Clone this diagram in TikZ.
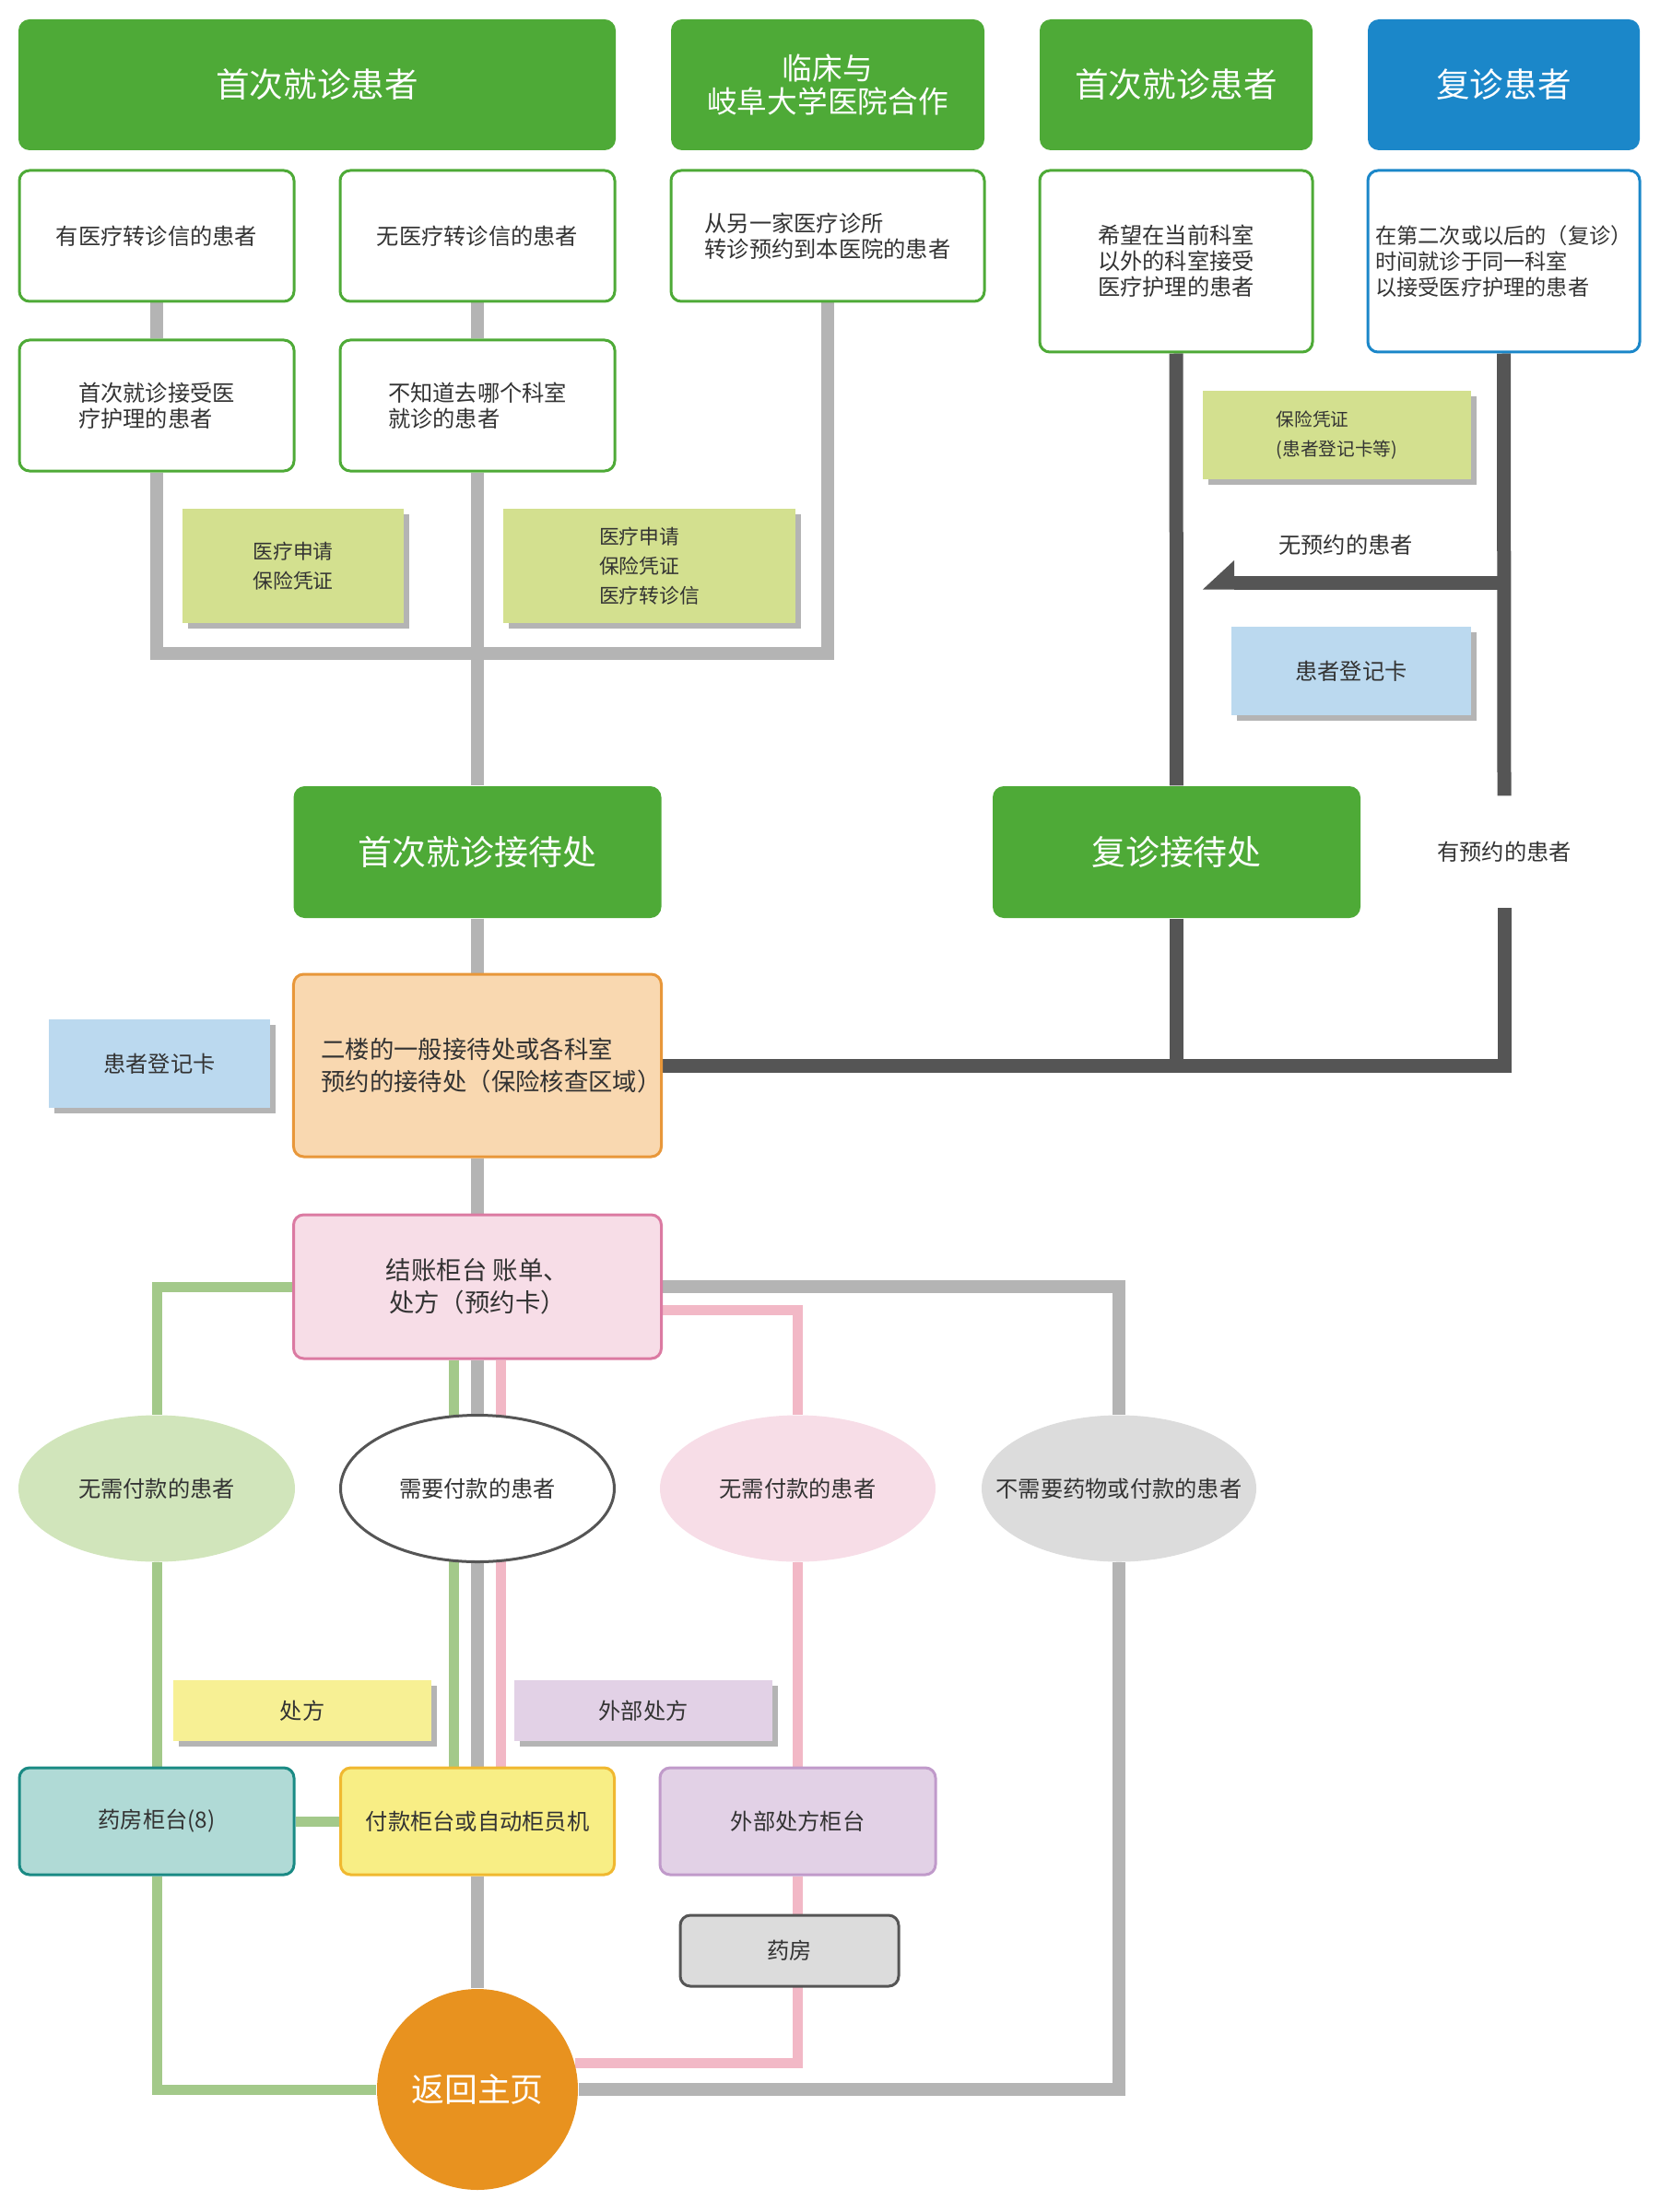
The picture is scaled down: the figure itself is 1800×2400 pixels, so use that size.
\documentclass[tikz,border=0pt]{standalone}
\usepackage{fontspec}
\setmainfont{Noto Sans CJK SC}
\usetikzlibrary{shapes.geometric,shadows,backgrounds}
\definecolor{hgreen}{HTML}{4EAA37}
\definecolor{hblue}{HTML}{1B87C9}
\definecolor{txtgray}{HTML}{333333}
\definecolor{notegreen}{HTML}{D3E08F}
\definecolor{noteblue}{HTML}{BBD9EF}
\definecolor{noteyellow}{HTML}{F7F094}
\definecolor{notepurple}{HTML}{E2D1E6}
\definecolor{shadowgray}{HTML}{B4B4B4}
\definecolor{lgray}{HTML}{B4B4B4}
\definecolor{dgray}{HTML}{555555}
\definecolor{lgreen}{HTML}{A3C98A}
\definecolor{lpink}{HTML}{F2B8C6}
\definecolor{orfill}{HTML}{F9D8B0}
\definecolor{ordraw}{HTML}{E8973A}
\definecolor{pkfill}{HTML}{F7DDE7}
\definecolor{pkdraw}{HTML}{DB7AA2}
\definecolor{elgreen}{HTML}{D1E5BB}
\definecolor{elgray}{HTML}{DCDCDC}
\definecolor{tlfill}{HTML}{B0DAD6}
\definecolor{tldraw}{HTML}{1A8A84}
\definecolor{ylfill}{HTML}{F8EE85}
\definecolor{yldraw}{HTML}{F0B830}
\definecolor{ppdraw}{HTML}{C09ACA}
\definecolor{homeorange}{HTML}{E8921F}

\begin{document}
\begin{tikzpicture}[x=0.1mm,y=-0.1mm,
  every node/.style={inner sep=0pt,text=txtgray},
  head/.style={fill=#1,text=white,rounded corners=1.2mm,minimum height=14.2mm,
    align=center,font=\fontsize{10.4}{10}\selectfont},
  head/.default=hgreen,
  pbox/.style={draw=#1,line width=0.3mm,fill=white,rounded corners=1.1mm,
    minimum height=14.2mm,align=left,font=\fontsize{6.9}{8}\selectfont},
  pbox/.default=hgreen,
  doc/.style={fill=#1,drop shadow={shadow xshift=0.6mm,shadow yshift=-0.6mm,
    fill=shadowgray,opacity=1},align=left,font=\fontsize{6.2}{9.1}\selectfont},
  desk/.style={fill=hgreen,text=white,rounded corners=1.2mm,minimum width=39.9mm,
    minimum height=14.3mm,font=\fontsize{10.5}{10}\selectfont},
  counter/.style={draw=#1,line width=0.3mm,rounded corners=1.1mm,minimum height=11.6mm,
    font=\fontsize{6.9}{8}\selectfont},
  patient/.style={ellipse,fill=#1,minimum height=15.9mm,font=\fontsize{6.9}{8}\selectfont},
  grayline/.style={draw=lgray,line width=1.4mm},
  darkline/.style={draw=dgray,line width=1.5mm},
  greenline/.style={draw=lgreen,line width=1.1mm},
  pinkline/.style={draw=lpink,line width=1.1mm}]

\useasboundingbox (0,0) rectangle (1800,2400);

% headers
\node[head,minimum width=64.8mm] (hFirst) at (344,92) {首次就诊患者};
\node[head,minimum width=34mm,font=\fontsize{9.3}{10}\selectfont] (hClinic) at (898,92)
  {临床与\\岐阜大学医院合作};
\node[head,minimum width=29.6mm] (hFirstB) at (1276,92) {首次就诊患者};
\node[head=hblue,minimum width=29.5mm] (hRevisit) at (1631.5,92) {复诊患者};

% patient groups
\node[pbox,minimum width=29.8mm] (bRef) at (170,256) {有医疗转诊信的患者};
\node[pbox,minimum width=29.8mm] (bNoRef) at (518,256) {无医疗转诊信的患者};
\node[pbox,minimum width=34mm] (bOther) at (898,256) {从另一家医疗诊所\\转诊预约到本医院的患者};
\node[pbox,minimum width=29.6mm,minimum height=19.7mm] (bWish) at (1276,283.5)
  {希望在当前科室\\以外的科室接受\\医疗护理的患者};
\node[pbox=hblue,minimum width=29.5mm,minimum height=19.7mm,font=\fontsize{6.6}{8}\selectfont]
  (bRevisit) at (1631.5,283.5) {在第二次或以后的（复诊）\\时间就诊于同一科室\\以接受医疗护理的患者};
\node[pbox,minimum width=29.8mm] (bFirstCare) at (170,440) {首次就诊接受医\\疗护理的患者};
\node[pbox,minimum width=29.8mm] (bUnknown) at (518,440) {不知道去哪个科室\\就诊的患者};

% documents to bring
\node[doc=notegreen,minimum width=24mm,minimum height=12.4mm] (nDocA) at (318,614) {医疗申请\\保险凭证};
\node[doc=notegreen,minimum width=31.7mm,minimum height=12.4mm] (nDocB) at (704.5,614)
  {医疗申请\\保险凭证\\医疗转诊信};
\node[doc=notegreen,minimum width=29.1mm,minimum height=9.6mm,font=\fontsize{5.6}{9.1}\selectfont]
  (nIns) at (1450.5,472) {保险凭证\\(患者登记卡等)};
\node[doc=noteblue,minimum width=26mm,minimum height=9.6mm,font=\fontsize{6.9}{8}\selectfont]
  (nCardR) at (1466,728) {患者登记卡};
\node[doc=noteblue,minimum width=24mm,minimum height=9.6mm,font=\fontsize{6.9}{8}\selectfont]
  (nCardL) at (173,1154) {患者登记卡};
\node[font=\fontsize{6.9}{8}\selectfont] (tNoAppt) at (1460,591) {无预约的患者};
\node[minimum height=12mm,font=\fontsize{6.9}{8}\selectfont] (tAppt) at (1632,924) {有预约的患者};

% receptions
\node[desk] (rFirst) at (518,924.5) {首次就诊接待处};
\node[desk] (rRevisit) at (1276.5,924.5) {复诊接待处};
\node[draw=ordraw,fill=orfill,line width=0.3mm,rounded corners=1.1mm,minimum width=39.9mm,
  minimum height=19.8mm,align=left,font=\fontsize{7.5}{10.2}\selectfont] (rFloor) at (518,1156)
  {\hspace*{3mm}二楼的一般接待处或各科室\\\hspace*{3mm}预约的接待处（保险核查区域）};
\node[draw=pkdraw,fill=pkfill,line width=0.3mm,rounded corners=1.1mm,minimum width=39.9mm,
  minimum height=15.6mm,align=center,font=\fontsize{7.8}{10}\selectfont] (rBill) at (518,1396)
  {结账柜台 账单、\\处方（预约卡）};

% patient types
\node[patient=elgreen,minimum width=30mm] (eNoPayG) at (170,1615) {\makebox[0pt]{无需付款的患者}};
\node[patient=white,draw=dgray,line width=0.3mm,minimum width=29.7mm] (ePay) at (518,1615)
  {\makebox[0pt]{需要付款的患者}};
\node[patient=pkfill,minimum width=29.9mm] (eNoPayP) at (865.5,1615) {\makebox[0pt]{无需付款的患者}};
\node[patient=elgray,minimum width=29.8mm] (eNone) at (1214,1615) {\makebox[0pt]{不需要药物或付款的患者}};

\node[doc=noteyellow,minimum width=28mm,minimum height=6.6mm,font=\fontsize{6.9}{8}\selectfont]
  (nRx) at (328,1856) {处方};
\node[doc=notepurple,minimum width=28mm,minimum height=6.6mm,font=\fontsize{6.9}{8}\selectfont]
  (nExtRx) at (698,1856) {外部处方};

% counters
\node[counter=tldraw,fill=tlfill,minimum width=29.8mm] (cPharm) at (170,1976) {药房柜台(8)};
\node[counter=yldraw,fill=ylfill,minimum width=29.7mm] (cPay) at (518,1976) {付款柜台或自动柜员机};
\node[counter=ppdraw,fill=notepurple,minimum width=29.9mm] (cExt) at (865.5,1976) {外部处方柜台};
\node[counter=dgray,fill=elgray,minimum width=23.7mm,minimum height=7.7mm] (cDrug) at (856.5,2116.5) {药房};
\node[circle,fill=homeorange,text=white,minimum size=21.8mm,font=\fontsize{10.2}{10}\selectfont]
  (home) at (518,2267) {返回主页};

\coordinate (jn) at (518,709);
\coordinate (noAppt) at (1632,632);
\coordinate (arrTip) at (1339,632);

\begin{pgfonlayer}{background}
% first visit
\draw[grayline] (bRef) -- (bFirstCare);
\draw[grayline] (bFirstCare.south) |- (jn) -| (bOther.south);
\draw[grayline] (bNoRef) -- (bUnknown);
\draw[grayline] (bUnknown.south) -- (rFirst.north);
\draw[grayline] (rFirst) -- (rFloor);
\draw[grayline] (rFloor) -- (rBill);
% revisit
\draw[darkline] (bWish) -- (rRevisit);
\draw[darkline] (rRevisit.south) -- (rRevisit.south |- rFloor.east);
\draw[darkline] (rFloor.east) -| (tAppt.south);
\draw[darkline] (bRevisit.south) -- (tAppt.north);
\draw[darkline] (noAppt) -- (arrTip);
\fill[dgray] (1339,608) -- (1339,639.5) -- (1305,639.5) -- cycle;
% after the bill
\draw[greenline] (rBill.west) -| (eNoPayG.north);
\draw[greenline] (eNoPayG) -- (cPharm);
\draw[greenline] (cPharm) -- (cPay);
\draw[greenline] (cPharm.south) |- (home.west);
\draw[greenline] ([xshift=-2.6mm]rBill.south) -- ([xshift=-2.6mm]cPay.north);
\draw[grayline] (rBill) -- (cPay);
\draw[pinkline] ([xshift=2.5mm]rBill.south) -- ([xshift=2.5mm]cPay.north);
\draw[grayline] (cPay) -- (home);
\draw[grayline] (rBill.east) -| (eNone.north);
\draw[grayline] (eNone.south) |- (home.east);
\draw[pinkline] ([yshift=-2.5mm]rBill.east) -| (eNoPayP.north);
\draw[pinkline] (eNoPayP) -- (cExt);
\draw[pinkline] (cExt.south) |- (home.15);
\end{pgfonlayer}
\end{tikzpicture}
\end{document}
